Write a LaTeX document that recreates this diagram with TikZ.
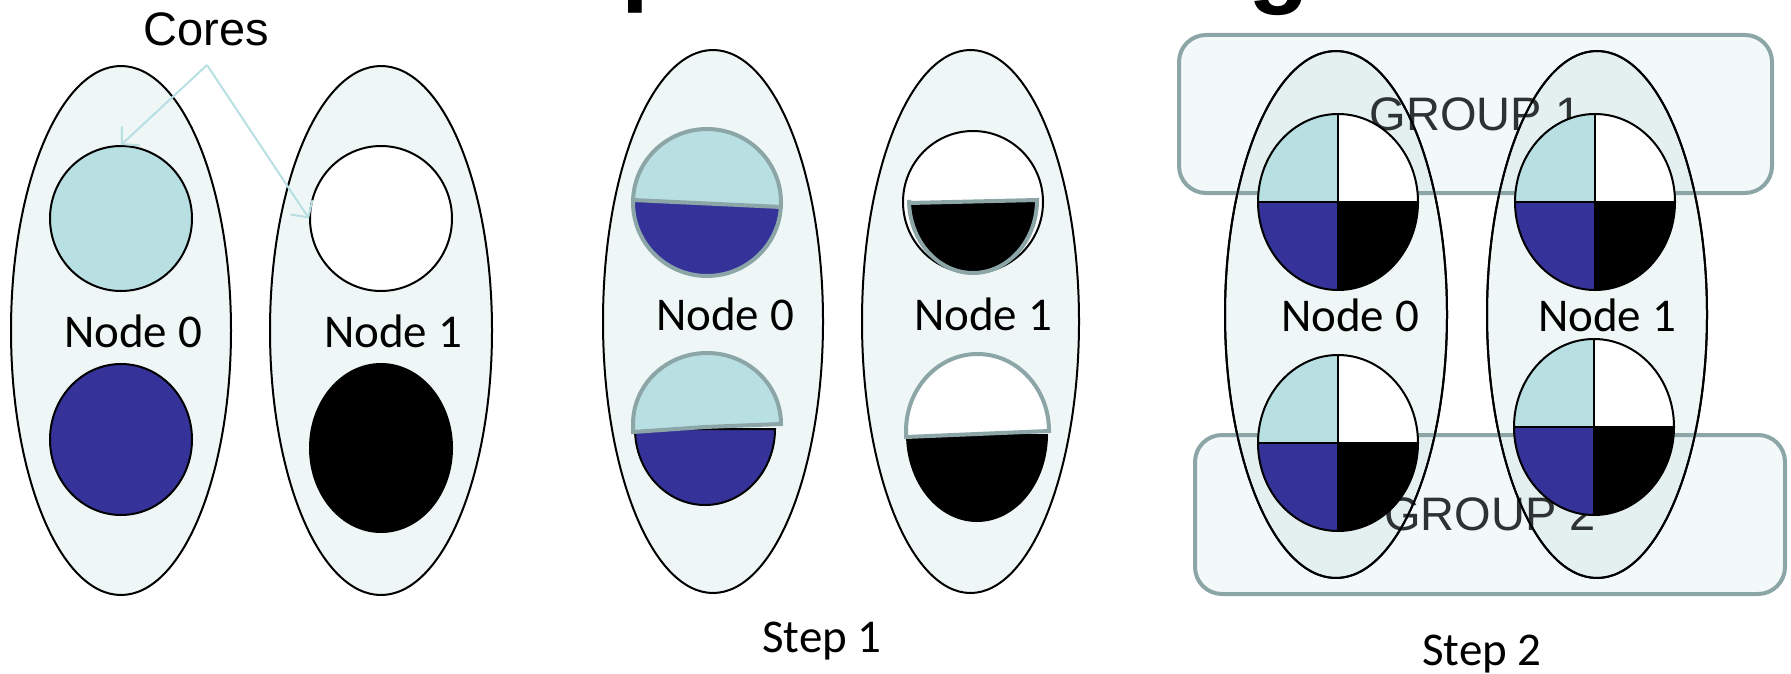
\documentclass[tikz,border=0pt]{standalone}
\usepackage{fontspec}
\setmainfont{Carlito}
\newfontfamily\arialf{Liberation Sans}
\usetikzlibrary{arrows.meta,shapes.geometric}
\definecolor{ellfill}{RGB}{238,247,246}
\definecolor{corelb}{RGB}{184,223,226}
\definecolor{coreblue}{RGB}{53,51,153}
\definecolor{grayline}{RGB}{140,166,168}
\definecolor{boxfill}{RGB}{140,184,184}
\definecolor{grouptext}{RGB}{45,50,50}
\begin{document}
\begin{tikzpicture}[x=1pt,y=-1pt,
  nodeell/.style={ellipse, draw=black, line width=2pt, fill=ellfill, inner sep=0pt},
  ellout/.style={ellipse, draw=black, line width=2pt, inner sep=0pt},
  core/.style={ellipse, draw=black, line width=2pt, inner sep=0pt},
  lbl/.style={font=\fontsize{47}{56}\selectfont, inner sep=0pt, anchor=base},
  arial/.style={font=\arialf\fontsize{47}{56}\selectfont, inner sep=0pt, anchor=base},
  grp/.style={rectangle, draw=grayline, line width=4pt, rounded corners=27pt, fill=boxfill, fill opacity=0.1, draw opacity=1, text opacity=1, text=grouptext, font=\arialf\fontsize{47}{56}\selectfont, inner sep=0pt},
  coreline/.style={-{Straight Barb[length=12pt,width=26pt]}, draw=corelb, line width=2pt},
  gline/.style={draw=grayline, line width=4pt},
  titlefrag/.style={font=\arialf\bfseries\fontsize{100}{120}\selectfont, inner sep=0pt, anchor=base west},
  qcore/.pic={
    \fill[corelb] (0,0) -- (-80,0) arc[start angle=180,end angle=270,x radius=80,y radius=88] -- cycle;
    \fill[white] (0,0) -- (0,-88) arc[start angle=270,end angle=360,x radius=80,y radius=88] -- cycle;
    \fill[black] (0,0) -- (80,0) arc[start angle=0,end angle=90,x radius=80,y radius=88] -- cycle;
    \fill[coreblue] (0,0) -- (0,88) arc[start angle=90,end angle=180,x radius=80,y radius=88] -- cycle;
    \draw[line width=2pt] (0,0) ellipse[x radius=80,y radius=88];
    \draw[line width=2pt] (-80,0) -- (80,0) (0,-88) -- (0,88);
  },
]
\useasboundingbox (0,0) rectangle (1791,674);

% title fragments (cut off at the top)
\node[titlefrag] (tp) at (621,-7) {p};
\node[titlefrag] (tg) at (1248,-5) {g};

% ---------- section 1 ----------
\node[nodeell, minimum width=220pt, minimum height=529pt] (n0a) at (121,330.5) {};
\node[nodeell, minimum width=222pt, minimum height=529pt] (n1a) at (381,330.5) {};
\node[core, fill=corelb, minimum width=142pt, minimum height=145pt] (c00) at (121,218.5) {};
\node[core, fill=coreblue, minimum width=142pt, minimum height=151pt] (c01) at (121,439.5) {};
\node[core, fill=white, minimum width=142pt, minimum height=145pt] (c10) at (381,218.5) {};
\node[core, fill=black, minimum width=142pt, minimum height=168pt] (c11) at (381,448) {};
\node[lbl] (l0a) at (133,347) {Node 0};
\node[lbl] (l1a) at (393,347) {Node 1};
\node[arial] (cores) at (206,46) {Cores};
\coordinate (corg) at (207,65);
\draw[coreline] (corg) -- (c00.north);
\draw[coreline] (corg) -- (c10.west);

% ---------- section 2 (Step 1) ----------
\node[nodeell, minimum width=220pt, minimum height=543pt] (n0b) at (713,321.5) {};
\node[nodeell, minimum width=217pt, minimum height=543pt] (n1b) at (970.5,321.5) {};
% node 0, upper core
\node[ellipse, inner sep=0pt, minimum width=148pt, minimum height=147pt, fill=coreblue] (c00b) at (707,202.5) {};
\begin{scope}
  \clip (620,120) -- (800,120) -- (800,207) -- (781,207) -- (633,200) -- (620,200) -- cycle;
  \fill[corelb] (707,202.5) ellipse[x radius=74, y radius=73.5];
\end{scope}
\draw[gline] (707,202.5) ellipse[x radius=74, y radius=73.5];
\draw[gline] (633,200) -- (781,207);
% node 0, lower core
\draw[black, line width=2pt, fill=coreblue] (775,429) arc[start angle=0, end angle=180, x radius=70, y radius=76] -- cycle;
\draw[gline, fill=corelb] (633,432) -- (705,427) -- (781,424) arc[start angle=0, end angle=-180, x radius=74, y radius=71] -- cycle;
% node 1, upper core
\node[core, fill=white, minimum width=140pt, minimum height=142pt] (c10b) at (973,202) {};
\draw[gline, fill=black] (909,203) -- (1037,200) arc[start angle=0, end angle=180, x radius=64, y radius=73] -- cycle;
% node 1, lower core
\fill[black] (1048,434) arc[start angle=0, end angle=180, x radius=71, y radius=88] -- cycle;
\draw[gline, fill=white] (906,437) -- (977,434) -- (1049,431) arc[start angle=0, end angle=-180, x radius=71.5, y radius=77] -- cycle;
\node[lbl] (l0b) at (725,330) {Node 0};
\node[lbl] (l1b) at (983,330) {Node 1};
\node[lbl] (step1) at (822,652) {Step 1};

% ---------- section 3 (Step 2) ----------
\node[nodeell, minimum width=222pt, minimum height=527pt] (n0c) at (1336,314.5) {};
\node[nodeell, minimum width=220pt, minimum height=527pt] (n1c) at (1597,314.5) {};
\node[grp, minimum width=593pt, minimum height=158pt] (g1) at (1475.5,114) {GROUP 1};
\node[grp, minimum width=590pt, minimum height=159pt] (g2) at (1490,514.5) {GROUP 2};
\node[ellout, minimum width=222pt, minimum height=527pt] (n0co) at (n0c.center) {};
\node[ellout, minimum width=220pt, minimum height=527pt] (n1co) at (n1c.center) {};
\pic at (1338,202) {qcore};
\pic at (1595,202) {qcore};
\pic at (1338,443) {qcore};
\pic at (1594,427) {qcore};
\node[lbl] (l0c) at (1350,331) {Node 0};
\node[lbl] (l1c) at (1607,331) {Node 1};
\node[lbl] (step2) at (1482,665) {Step 2};
\end{tikzpicture}
\end{document}
